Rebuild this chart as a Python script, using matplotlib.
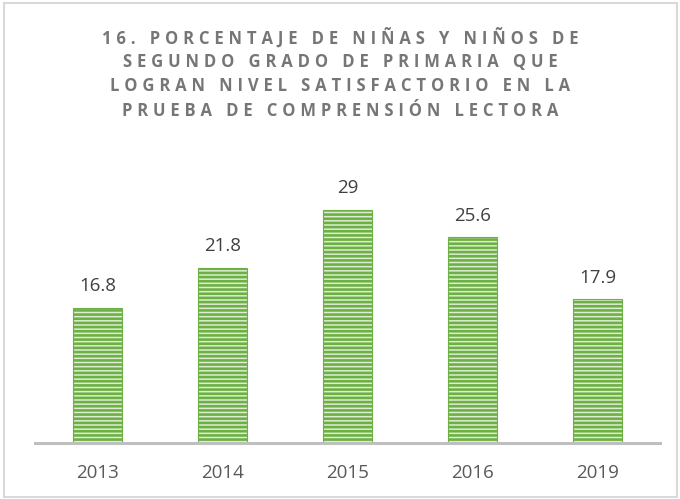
import matplotlib
matplotlib.use("Agg")
import matplotlib.pyplot as plt
from matplotlib.patches import Rectangle

years = ["2013", "2014", "2015", "2016", "2019"]
values = [16.8, 21.8, 29, 25.6, 17.9]
title_lines = [
    "16. PORCENTAJE DE NIÑAS Y NIÑOS DE",
    "SEGUNDO GRADO DE PRIMARIA QUE",
    "LOGRAN NIVEL SATISFACTORIO EN LA",
    "PRUEBA DE COMPRENSIÓN LECTORA",
]

plt.rcParams['hatch.linewidth'] = 1.9
W, H = 680, 499
fig = plt.figure(figsize=(W / 100, H / 100), dpi=100)
fig.patch.set_facecolor("white")

# border
fig.patches.append(Rectangle((4 / W, 2 / H), 673 / W, 494 / H, transform=fig.transFigure,
                             fill=False, edgecolor="#D9D9D9", linewidth=1.5))

ax = fig.add_axes([35 / W, 56 / H, 625 / W, 0.564])
x = list(range(len(years)))
ax.bar(x, values, width=0.385, color="#DDEED3", edgecolor="#6DB043", hatch="----", linewidth=0.8)
ax.set_xlim(-0.5, len(years) - 0.5)
ax.set_ylim(0, 35)
for s in ["top", "right", "left"]:
    ax.spines[s].set_visible(False)
ax.spines["bottom"].set_color("#BFBFBF")
ax.spines["bottom"].set_linewidth(2.2)
ax.set_yticks([])
ax.set_xticks(x)
ax.set_xticklabels(years, fontsize=13.5, color="#595959", family=["Open Sans", "DejaVu Sans"])
ax.tick_params(axis="x", length=0, pad=15)
for xi, v in zip(x, values):
    ax.annotate(f"{v:g}", (xi, v), xytext=(0, 9), textcoords="offset points",
                ha="center", va="bottom", fontsize=13.5, color="#404040",
                family=["Open Sans", "DejaVu Sans"])

hs = "\u200a"
def spaced(s):
    return (hs * 3).join(s)

ys = [38, 62.5, 86, 111]
for line, yy in zip(title_lines, ys):
    fig.text(0.5, 1 - yy / H, spaced(line), ha="center", va="center", fontsize=12,
             fontweight="bold", color="#767676", family=["Open Sans", "DejaVu Sans"])

fig.savefig("out.png", dpi=100)
